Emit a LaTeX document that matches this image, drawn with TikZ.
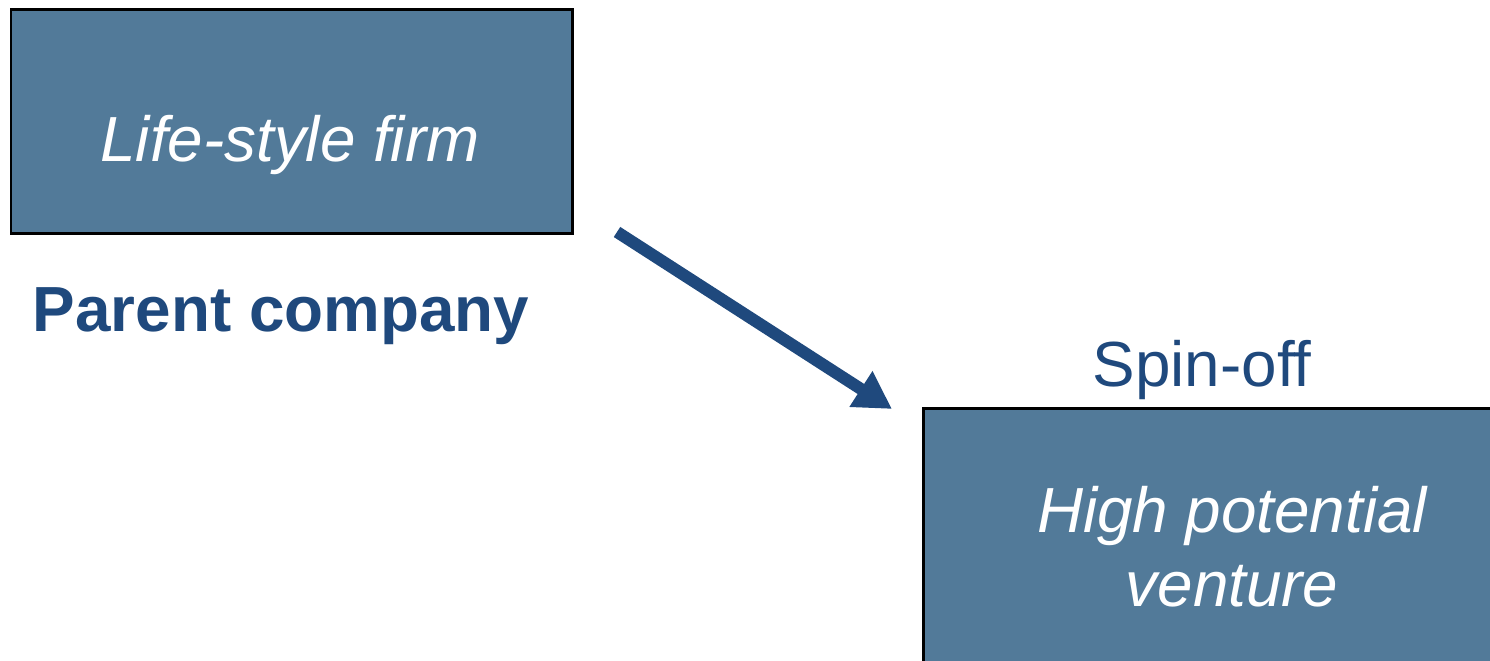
\documentclass[tikz,border=0pt]{standalone}
\usepackage{fontspec}
\setmainfont{Liberation Sans}
\usetikzlibrary{arrows.meta}
\definecolor{boxblue}{RGB}{82,122,153}
\definecolor{navy}{RGB}{31,73,125}
\tikzset{
  firmbox/.style={draw=black,line width=0.06cm,fill=boxblue},
  boxtext/.style={text=white,font=\fontsize{36.3}{42}\selectfont\itshape,align=center,inner sep=0pt},
  labeltext/.style={text=navy,font=\fontsize{36.3}{42}\selectfont,inner sep=0pt},
  spinarrow/.style={draw=navy,line width=0.24cm,-{Triangle[length=0.74cm,width=0.8cm]}}
}
\begin{document}
\begin{tikzpicture}[x=0.02cm,y=0.02cm]
  \useasboundingbox (0,0) rectangle (1490,661);
  \clip (0,0) rectangle (1490,661);
  % parent company box:
  \draw[firmbox] (11,651) rectangle (572,427);
  \node[boxtext,anchor=base] (lifestyle) at (290,499) {Life-style firm};
  \node[labeltext,font=\fontsize{36.3}{42}\selectfont\bfseries,anchor=base] (parent) at (281,329) {Parent company};
  % spin-off box (runs off the page):
  \draw[firmbox] (923,252) rectangle (1541,-60);
  \node[boxtext,anchor=base] (highpot) at (1232,128) {High potential};
  \node[boxtext,anchor=base] (venture) at (1232,54) {venture};
  \node[labeltext,anchor=base] (spinoff) at (1202,274) {Spin-off};
  % arrow from parent to spin-off:
  \coordinate (arrowstart) at (617,429);
  \coordinate (arrowend) at (892,252);
  \draw[spinarrow] (arrowstart) -- (arrowend);
\end{tikzpicture}
\end{document}
